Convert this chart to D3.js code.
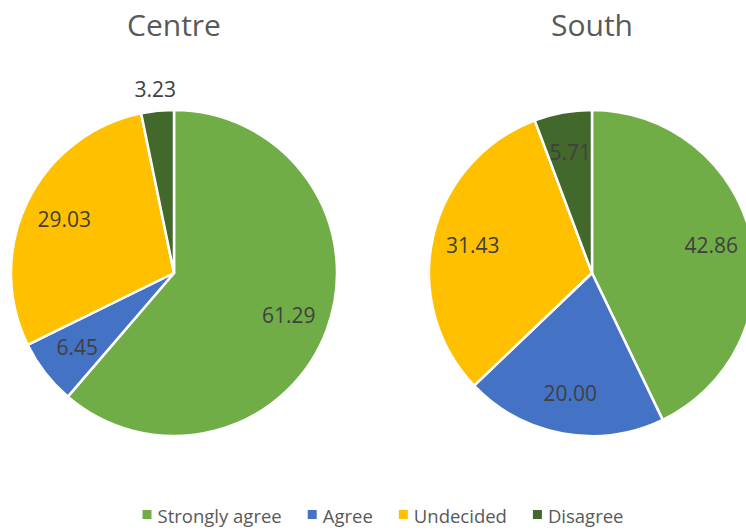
<!DOCTYPE html>
<html>
<head>
<meta charset="utf-8">
<script src="https://cdn.jsdelivr.net/npm/d3@7"></script>
<style>
  body { margin: 0; background: #fff; }
  svg { display: block; font-family: "Open Sans", sans-serif; }
</style>
</head>
<body>
<div id="chart"></div>
<script>
var width = 746,
	height = 531;

var categories = ['Strongly agree', 'Agree', 'Undecided', 'Disagree'];
var regions = ['Centre', 'South'];
var centreValues = [61.29, 6.45, 29.03, 3.23];
var southValues = [42.86, 20.00, 31.43, 5.71];
var colors = ['#70AD47', '#4472C4', '#FFC000', '#43682B'];

var radius = 163,
	cy = 273,
	centersX = [174, 592];

var color = d3.scaleOrdinal()
	.domain(categories)
	.range(colors);

var svg = d3.select('#chart')
	.append('svg')
	.attr('width', width)
	.attr('height', height);

var pie = d3.pie()
	.sort(null)
	.value(function(d) { return d.value; });

var arc = d3.arc()
	.innerRadius(0)
	.outerRadius(radius);

var labelArc = d3.arc()
	.innerRadius(radius * 0.75)
	.outerRadius(radius * 0.75);

var outerArc = d3.arc()
	.innerRadius(radius + 22)
	.outerRadius(radius + 22);

[centreValues, southValues].forEach(function(values, i) {
	var data = categories.map(function(c, j) { return {cat: c, value: values[j]}; });
	var g = svg.append('g')
		.attr('transform', 'translate(' + centersX[i] + ',' + cy + ')');

	g.selectAll('path')
		.data(pie(data))
		.enter()
		.append('path')
		.attr('d', arc)
		.attr('fill', function(d) { return color(d.data.cat); })
		.attr('stroke', '#fff')
		.attr('stroke-width', 2.5)
		.attr('stroke-linejoin', 'round');

	g.selectAll('text.lbl')
		.data(pie(data))
		.enter()
		.append('text')
		.attr('class', 'lbl')
		.attr('transform', function(d) {
			// small slices get their label pushed outside like Excel does
			var a = d.value < 4 ? outerArc : labelArc;
			return 'translate(' + a.centroid(d) + ')';
		})
		.attr('text-anchor', 'middle')
		.attr('dy', '0.36em')
		.attr('font-size', 21)
		.attr('fill', '#404040')
		.text(function(d) { return d.value.toFixed(2); });

	svg.append('text')
		.attr('x', centersX[i])
		.attr('y', 36)
		.attr('text-anchor', 'middle')
		.attr('font-size', 30)
		.attr('fill', '#595959')
		.text(regions[i]);
});

// legend
var legend = svg.append('g');
var lx = 0;
categories.forEach(function(c) {
	var item = legend.append('g').attr('transform', 'translate(' + lx + ',0)');
	item.append('rect')
		.attr('x', 0)
		.attr('y', -13)
		.attr('width', 9)
		.attr('height', 9)
		.attr('fill', color(c));
	var t = item.append('text')
		.attr('x', 15)
		.attr('y', 0)
		.attr('font-size', 18.5)
		.attr('fill', '#595959')
		.text(c);
	lx += 15 + t.node().getComputedTextLength() + 26;
});
lx -= 26;
legend.attr('transform', 'translate(' + (383 - lx / 2) + ',523)');
</script>
</body>
</html>
